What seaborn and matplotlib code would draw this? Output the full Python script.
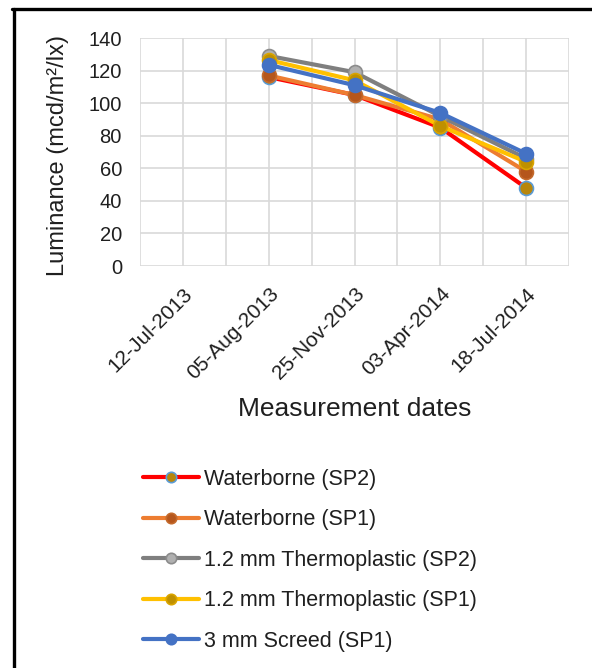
import numpy as np
import pandas as pd
import matplotlib
matplotlib.use("Agg")
import matplotlib.pyplot as plt
import matplotlib.transforms as mtransforms
from matplotlib.lines import Line2D
import seaborn as sns

# ---- data ----
dates = ['12-Jul-2013', '05-Aug-2013', '25-Nov-2013', '03-Apr-2014', '18-Jul-2014']
series_names = ['Waterborne (SP2)', 'Waterborne (SP1)', '1.2 mm Thermoplastic (SP2)',
                '1.2 mm Thermoplastic (SP1)', '3 mm Screed (SP1)']
waterborne_sp2 = [np.nan, 116, 105, 85, 48]
waterborne_sp1 = [np.nan, 117, 105, 90, 58]
thermo_sp2 = [np.nan, 129, 119, 92, 66]
thermo_sp1 = [np.nan, 126.5, 114, 86, 64]
screed_sp1 = [np.nan, 123.5, 111, 94, 69]
y_ticks = [0, 20, 40, 60, 80, 100, 120, 140]

values = [waterborne_sp2, waterborne_sp1, thermo_sp2, thermo_sp1, screed_sp1]
line_colors = ['#ff0000', '#ed7d31', '#7f7f7f', '#ffc000', '#4472c4']
face_colors = ['#b8860b', '#b5561c', '#b0b0b0', '#bf9000', '#4472c4']
edge_colors = ['#5b9bd5', '#c46a2c', '#8c8c8c', '#d9a400', '#4472c4']

sns.set_style('white')
plt.rcParams['font.family'] = ['Liberation Sans', 'DejaVu Sans']
text_color = '#1f1f1f'

fig = plt.figure(figsize=(5.92, 6.68), dpi=100)
W, H = 592, 668
ax = fig.add_axes([140 / W, 1 - 266 / H, (569 - 140) / W, (266 - 38) / H])

x_idx = np.arange(len(dates))
for name, vals, lc, fc, ec in zip(series_names, values, line_colors, face_colors, edge_colors):
    df = pd.DataFrame({'x': x_idx, 'y': vals}).dropna()
    sns.lineplot(data=df, x='x', y='y', ax=ax, color=lc, linewidth=3,
                 marker='o', markersize=10, markerfacecolor=fc,
                 markeredgecolor=ec, markeredgewidth=1.2, label=name)

ax.set_xlim(-0.5, len(dates) - 0.5)
ax.set_ylim(0, 140)
ax.set_yticks(y_ticks)
ax.set_xticks(x_idx)
ax.set_xticks(np.arange(len(dates) + 1) - 0.5, minor=True)
ax.set_xticklabels(dates, rotation=45, ha='right', va='top', rotation_mode='anchor',
                   fontsize=15, color=text_color)
for t in ax.get_yticklabels():
    t.set_fontsize(14.5)
    t.set_color(text_color)
offset = mtransforms.ScaledTranslation(-4 / 100, 0, fig.dpi_scale_trans)
for t in ax.get_xticklabels():
    t.set_transform(t.get_transform() + offset)

ax.tick_params(axis='x', which='both', length=0, pad=13)
ax.tick_params(axis='y', which='both', length=0, pad=13)
ax.grid(True, which='both', color='#d9d9d9', linewidth=1.2)
ax.set_axisbelow(True)
for s in ax.spines.values():
    s.set_visible(False)

ax.set_ylabel('Luminance (mcd/m\u00b2/lx)', fontsize=17, color=text_color,
              ha='center', va='center')
ax.yaxis.set_label_coords((58 - 140) / 429, (266 - 155) / 228)
ax.set_xlabel('Measurement dates', fontsize=19, color=text_color, va='top')
ax.xaxis.set_label_coords(0.5, (266 - 397) / 228)

handles, labels = ax.get_legend_handles_labels()
if ax.legend_:
    ax.legend_.remove()
leg = fig.legend(handles, labels, loc='upper left',
                 bbox_to_anchor=(143 / W, 1 - 469 / H),
                 frameon=False, fontsize=15.5, handlelength=2.6, handletextpad=0.25,
                 labelspacing=0.9, borderpad=0, borderaxespad=0, markerscale=0.75)
for t in leg.get_texts():
    t.set_color(text_color)

# outer frame (partial, as in reference)
fig.add_artist(Line2D([13.5 / W, 13.5 / W], [0, 1 - 8.5 / H], transform=fig.transFigure,
                      color='black', linewidth=2.4))
fig.add_artist(Line2D([12.3 / W, 1], [1 - 8.5 / H, 1 - 8.5 / H], transform=fig.transFigure,
                      color='black', linewidth=2.4))

fig.savefig('out.png', dpi=100)
